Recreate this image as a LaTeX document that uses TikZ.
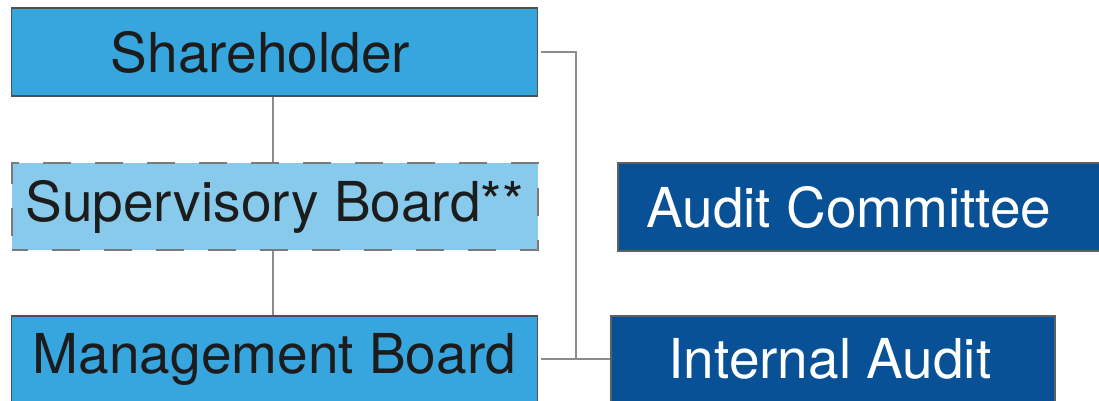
\documentclass[tikz,border=0pt]{standalone}
\usepackage{fontspec}
\setmainfont{TeX Gyre Heros}
\begin{document}
\begin{tikzpicture}[x=1pt,y=1pt,
  box/.style={draw=boxline, line width=1.4pt, minimum height=88pt, inner sep=0pt,
    font=\fontsize{55}{60}\selectfont},
  midbox/.style={box, fill=midblue, text=textdark},
  lightbox/.style={box, fill=lightblue, text=textdark, draw=dashline, line width=2pt,
    dash pattern=on 28pt off 24pt, dash phase=12pt},
  darkbox/.style={box, fill=darkblue, text=white, draw=darkline, line width=1.2pt},
  conn/.style={draw=connline, line width=1.3pt}
]
\definecolor{midblue}{HTML}{38A6DE}
\definecolor{lightblue}{HTML}{88CAEC}
\definecolor{darkblue}{HTML}{085196}
\definecolor{boxline}{HTML}{505050}
\definecolor{dashline}{HTML}{7A7A7A}
\definecolor{darkline}{HTML}{606060}
\definecolor{connline}{HTML}{8C8C8C}
\definecolor{textdark}{HTML}{1C1C1C}
\useasboundingbox[fill=white] (0,0) rectangle (1099,400);

\node[midbox, minimum width=526pt] (sh) at (274.5,348) {\hspace*{-28pt}Shareholder};
\node[lightbox, minimum width=526pt, minimum height=87pt] (sup) at (274.5,193.5) {Supervisory Board**};
\node[midbox, minimum width=526pt, minimum height=86pt] (mg) at (274.5,41) {Management Board};
\node[darkbox, minimum width=490pt] (ac) at (863,193) {\hspace*{-28pt}Audit Committee};
\node[darkbox, minimum width=444pt, minimum height=86pt] (ia) at (833,41) {\hspace*{-6pt}Internal Audit};

\coordinate (j) at (576,41);

\draw[conn] (sh.south -| 273,0) -- (sup.north -| 273,0);
\draw[conn] (sup.south -| 273,0) -- (mg.north -| 273,0);
\draw[conn] ([xshift=2.5pt]sh.east) -| (j);
\draw[conn] ([xshift=2.5pt]mg.east) -- (ia.west);
\end{tikzpicture}
\end{document}
